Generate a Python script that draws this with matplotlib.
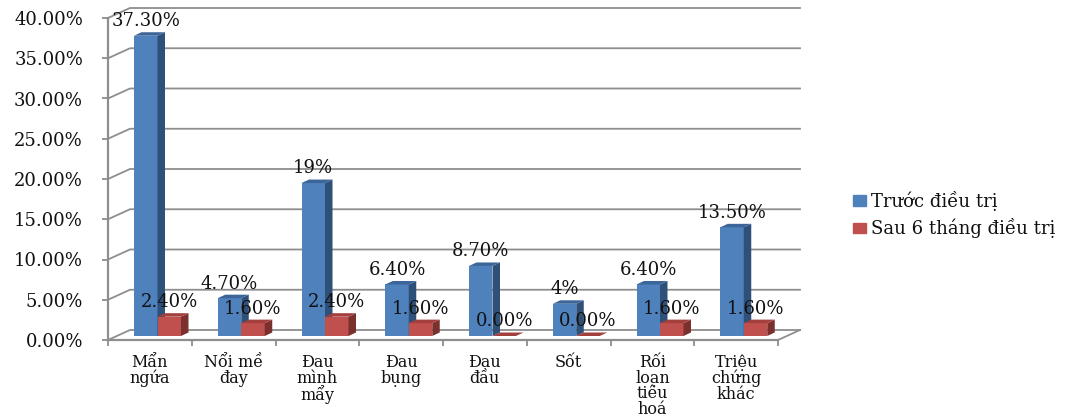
import matplotlib
matplotlib.use("Agg")
import matplotlib.pyplot as plt
from matplotlib.patches import Polygon
from matplotlib.ticker import PercentFormatter

categories = ["Mẩn\nngứa", "Nổi mề\nđay", "Đau\nmình\nmẩy", "Đau\nbụng", "Đau\nđầu",
              "Sốt", "Rối\nloạn\ntiêu\nhoá", "Triệu\nchứng\nkhác"]
before = [37.3, 4.7, 19.0, 6.4, 8.7, 4.0, 6.4, 13.5]
after = [2.4, 1.6, 2.4, 1.6, 0.0, 0.0, 1.6, 1.6]
before_labels = ["37.30%", "4.70%", "19%", "6.40%", "8.70%", "4%", "6.40%", "13.50%"]
after_labels = ["2.40%", "1.60%", "2.40%", "1.60%", "0.00%", "0.00%", "1.60%", "1.60%"]
series_names = ["Trước điều trị", "Sau 6 tháng điều trị"]
y_ticks = [0, 5, 10, 15, 20, 25, 30, 35, 40]

W, H = 1068, 418
LEFT, RIGHT, BOTTOM, TOP = 108, 778, 340, 18
GRID = "#8e8e8e"
TEXT = "#111111"
plt.rcParams["font.family"] = ["DejaVu Serif", "DejaVu Sans"]

fig = plt.figure(figsize=(W / 100, H / 100), dpi=100, facecolor="white")
ax = fig.add_axes([LEFT / W, 1 - BOTTOM / H, (RIGHT - LEFT) / W, (BOTTOM - TOP) / H])
ax.set_xlim(0, len(categories))
ax.set_ylim(0, 40)

# Conversion of pixel lengths into data units, for the oblique 3D depth
px_x = len(categories) / (RIGHT - LEFT)
px_y = 40 / (BOTTOM - TOP)
wall_dx, wall_dy = 22 * px_x, 10 * px_y
bar_dx, bar_dy = 7.5 * px_x, 3.5 * px_y
floor_lift = 4 * px_y
bar_w = 23.5 * px_x
first_bar = 26 * px_x


def draw_bar(x, value, front, side, top):
    ax.bar(x, value, width=bar_w, bottom=floor_lift, align="edge", color=front,
           linewidth=0, zorder=3, clip_on=False)
    y0, y1 = floor_lift, floor_lift + value
    x1 = x + bar_w
    ax.add_patch(Polygon([(x1, y0), (x1 + bar_dx, y0 + bar_dy), (x1 + bar_dx, y1 + bar_dy), (x1, y1)],
                         facecolor=side, edgecolor="none", zorder=3, clip_on=False))
    ax.add_patch(Polygon([(x, y1), (x + bar_dx, y1 + bar_dy), (x1 + bar_dx, y1 + bar_dy), (x1, y1)],
                         facecolor=top, edgecolor="none", zorder=3, clip_on=False))


# Back wall, side wall and floor lines
for t in y_ticks:
    ax.plot([0, wall_dx, len(categories) + wall_dx], [t, t + wall_dy, t + wall_dy],
            color=GRID, lw=1.3, zorder=1, clip_on=False, solid_joinstyle="miter")
ax.plot([len(categories), len(categories) + wall_dx], [0, wall_dy],
        color=GRID, lw=1.3, zorder=1, clip_on=False)

# Bars from left to right so that nearer faces overlap correctly
for i in range(len(categories)):
    xb = i + first_bar
    xr = xb + bar_w
    draw_bar(xb, before[i], "#4f81bd", "#2f5079", "#3c659a")
    draw_bar(xr, after[i], "#c0504d", "#7c302e", "#a33f3c")

# Value labels above each bar
for i in range(len(categories)):
    xb = i + first_bar + bar_w / 2
    xr = xb + bar_w
    ax.annotate(before_labels[i], (xb, floor_lift + before[i]), xytext=(0, 10.5),
                textcoords="offset points", ha="center", va="center",
                fontsize=13, color=TEXT, zorder=5, annotation_clip=False)
    ax.annotate(after_labels[i], (xr, floor_lift + after[i]), xytext=(0, 10.5),
                textcoords="offset points", ha="center", va="center",
                fontsize=13, color=TEXT, zorder=5, annotation_clip=False)

# Axes, ticks and tick labels
for side in ("top", "right"):
    ax.spines[side].set_visible(False)
for side in ("left", "bottom"):
    ax.spines[side].set_color(GRID)
    ax.spines[side].set_linewidth(1.6)

ax.set_yticks(y_ticks)
ax.yaxis.set_major_formatter(PercentFormatter(decimals=2))
ax.tick_params(axis="y", length=4, width=1.3, color=GRID, labelsize=13,
               labelcolor=TEXT, pad=14)

ax.set_xticks([i + 0.5 for i in range(len(categories))])
ax.set_xticklabels(categories, fontsize=11.5, color=TEXT, linespacing=0.9, va="top")
ax.set_xticks(range(len(categories) + 1), minor=True)
ax.tick_params(axis="x", which="major", length=0, pad=10)
ax.tick_params(axis="x", which="minor", length=4, width=1.3, color=GRID)

# Legend
handles = [plt.Rectangle((0, 0), 1, 1, color=c) for c in ("#4f81bd", "#c0504d")]
fig.legend(handles, series_names, loc="upper left", bbox_to_anchor=(851 / W, 1 - 189 / H),
           frameon=False, fontsize=13, handlelength=0.72, handleheight=0.5,
           handletextpad=0.3, labelspacing=0.42, labelcolor=TEXT,
           borderpad=0.1, borderaxespad=0)

fig.savefig("out.png", dpi=100, facecolor="white")
